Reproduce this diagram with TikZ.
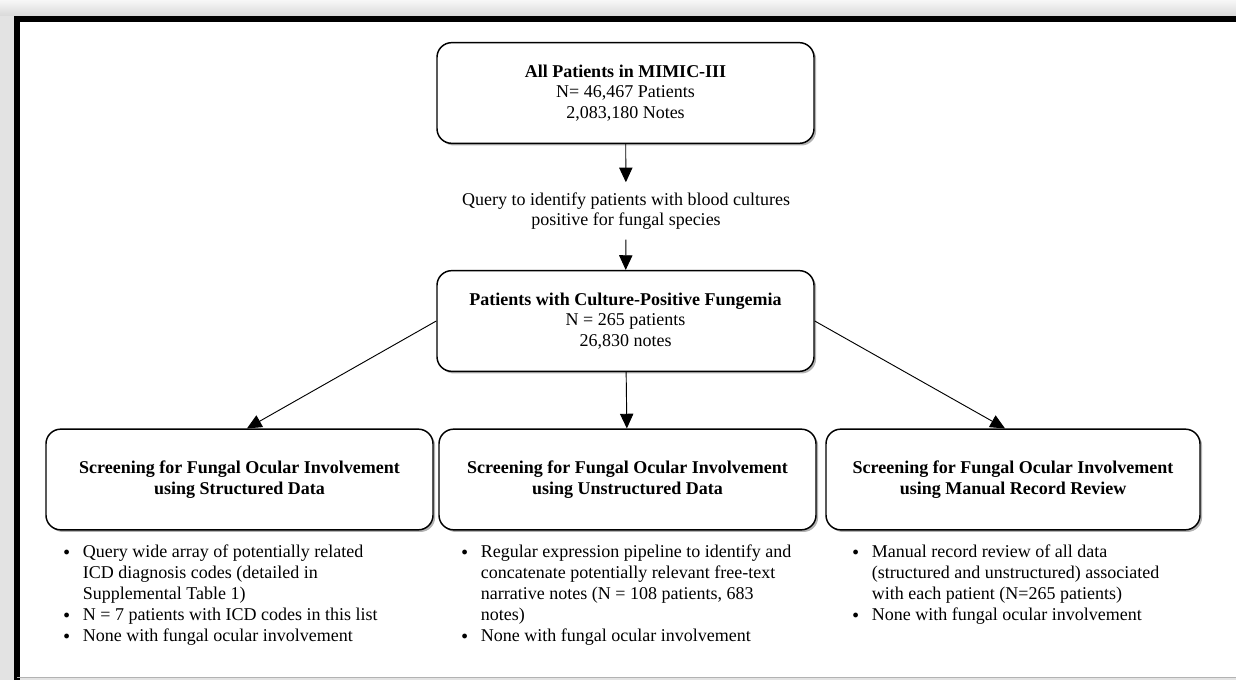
\documentclass[tikz,border=0pt]{standalone}
\usepackage{fontspec}
\setmainfont{Liberation Serif}
\usetikzlibrary{arrows.meta,shadows}

\newcommand{\bul}{\makebox[15.5pt][l]{\hspace{1pt}\raisebox{0.25ex}{$\scriptstyle\bullet$}}}

\begin{document}
\begin{tikzpicture}[x=0.75pt,y=-0.75pt]
                \tikzstyle{stepbox}=[draw, rounded corners=11pt, line width=1.1pt, fill=white, align=center, inner sep=0pt, minimum height=75.5pt, font=\fontsize{13.5}{15.6}\selectfont, drop shadow={shadow xshift=1.6pt, shadow yshift=-1.6pt, fill=black, opacity=0.3}]
                \tikzstyle{flow}=[-{Triangle[width=10pt,length=11pt]}, line width=0.7pt]
                \tikzstyle{notes}=[anchor=north west, inner sep=0pt, align=left, font=\fontsize{13.5}{15.75}\selectfont]

                \useasboundingbox (0,0) rectangle (1236,680);
                \fill[gray!22] (0,0) rectangle (1236,680);
                \shade[top color=gray!6, bottom color=gray!30] (0,0) rectangle (1236,16);
                \fill[white] (17,19) rectangle (1236,677);
                \draw[line width=4.5pt] (17,680) -- (17,19) -- (1236,19);
                \draw[gray!60, line width=0.8pt] (17,677.5) -- (1236,677.5);

                \node[stepbox, minimum width=282.75pt] (all) at (625.5,93) {\textbf{All Patients in MIMIC-III}\\N= 46,467 Patients\\2,083,180 Notes};
                \node[align=center, inner ysep=7.5pt, font=\fontsize{13.5}{15.3}\selectfont] (query) at (626,211) {Query to identify patients with blood cultures\\positive for fungal species};
                \node[stepbox, minimum width=282.75pt] (fungemia) at (625.5,321) {\textbf{Patients with Culture-Positive Fungemia}\\N = 265 patients\\26,830 notes};

                \node[stepbox, minimum width=290.25pt] (structured) at (239.5,479.5) {\textbf{Screening for Fungal Ocular Involvement}\\\textbf{using Structured Data}};
                \node[stepbox, minimum width=282.75pt] (unstructured) at (627.5,479.5) {\textbf{Screening for Fungal Ocular Involvement}\\\textbf{using Unstructured Data}};
                \node[stepbox, minimum width=280.5pt] (manual) at (1013,479.5) {\textbf{Screening for Fungal Ocular Involvement}\\\textbf{using Manual Record Review}};

                \draw[flow] (all) -- (query);
                \draw[flow] (query) -- (fungemia);
                \draw[flow] (fungemia.west) -- ([xshift=5.6pt]structured.north);
                \draw[flow] (fungemia) -- (unstructured);
                \draw[flow] (fungemia.east) -- ([xshift=-6pt]manual.north);

                \node[notes] (structnotes) at (62,543) {\begin{tabular}{@{}l@{}l@{}}
                    \bul & Query wide array of potentially related\\
                         & ICD diagnosis codes (detailed in\\
                         & Supplemental Table 1)\\
                    \bul & N = 7 patients with ICD codes in this list\\
                    \bul & None with fungal ocular involvement
                \end{tabular}};
                \node[notes] (unstructnotes) at (460,543) {\begin{tabular}{@{}l@{}l@{}}
                    \bul & Regular expression pipeline to identify and\\
                         & concatenate potentially relevant free-text\\
                         & narrative notes (N = 108 patients, 683\\
                         & notes)\\
                    \bul & None with fungal ocular involvement
                \end{tabular}};
                \node[notes] (manualnotes) at (851,543) {\begin{tabular}{@{}l@{}l@{}}
                    \bul & Manual record review of all data\\
                         & (structured and unstructured) associated\\
                         & with each patient (N=265 patients)\\
                    \bul & None with fungal ocular involvement
                \end{tabular}};
            \end{tikzpicture}
\end{document}
